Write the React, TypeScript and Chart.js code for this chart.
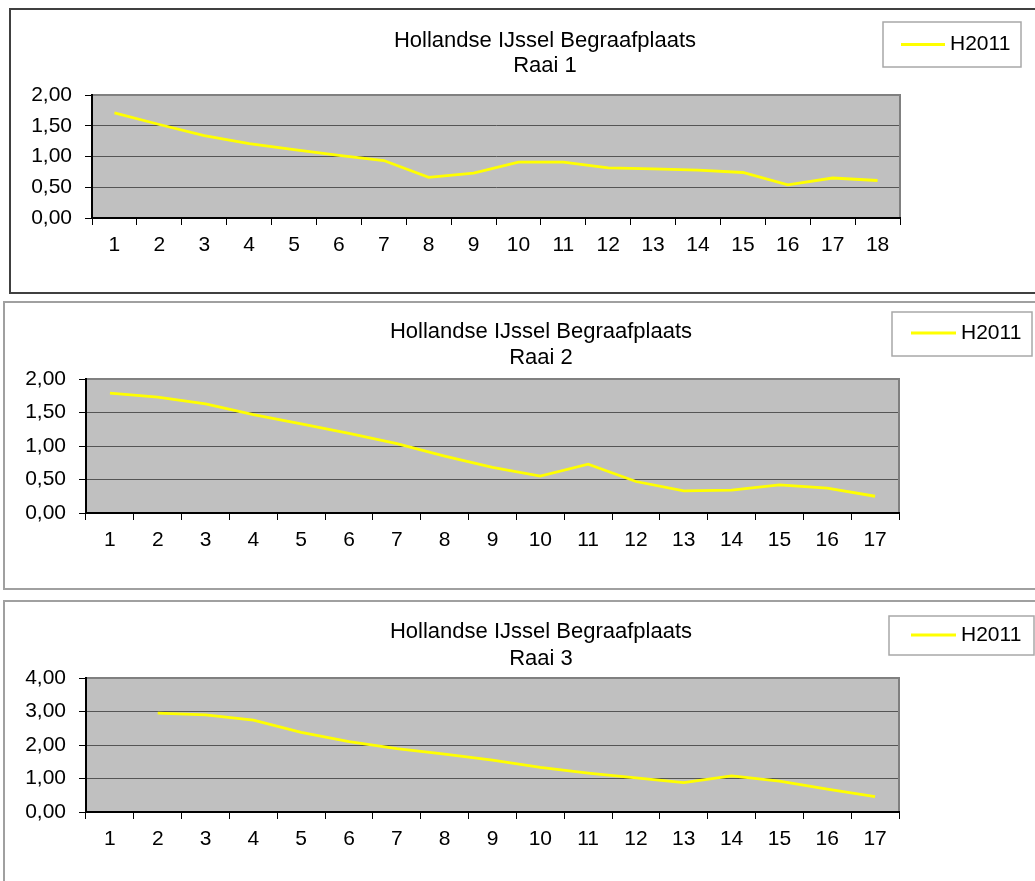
import { useEffect, useRef } from 'react';
import { Chart, registerables } from 'chart.js';

Chart.register(...registerables);

// ---- data -------------------------------------------------------------
const CHART_TITLE = 'Hollandse IJssel Begraafplaats';
const SERIES_LABEL = 'H2011';

const raai1Points = ['1', '2', '3', '4', '5', '6', '7', '8', '9', '10', '11', '12', '13', '14', '15', '16', '17', '18'];
const raai2Points = ['1', '2', '3', '4', '5', '6', '7', '8', '9', '10', '11', '12', '13', '14', '15', '16', '17'];
const raai3Points = ['1', '2', '3', '4', '5', '6', '7', '8', '9', '10', '11', '12', '13', '14', '15', '16', '17'];

const raai1H2011 = [1.71, 1.52, 1.34, 1.21, 1.11, 1.02, 0.935, 0.66, 0.73, 0.91, 0.91, 0.815, 0.8, 0.78, 0.74, 0.54, 0.65, 0.61];
const raai2H2011 = [1.79, 1.73, 1.63, 1.47, 1.33, 1.19, 1.035, 0.85, 0.68, 0.55, 0.73, 0.47, 0.33, 0.34, 0.42, 0.37, 0.25];
const raai3H2011 = [null, 2.95, 2.9, 2.74, 2.38, 2.1, 1.89, 1.73, 1.55, 1.33, 1.16, 1.02, 0.88, 1.08, 0.92, 0.68, 0.46];

const raai1Ticks = { max: 2, step: 0.5 };
const raai2Ticks = { max: 2, step: 0.5 };
const raai3Ticks = { max: 4, step: 1 };

// ---- layout -----------------------------------------------------------
const PAGE_W = 1035;
const PAGE_H = 881;
const FONT = "'Liberation Sans', Arial, Helvetica, sans-serif";
const AXIS_FONT_SIZE = 21;
const TITLE_FONT_SIZE = 22;
const X_AXIS_H = 40;
const LINE_COLOR = '#FFFF00';

type PanelSpec = {
  name: string;
  labels: string[];
  values: (number | null)[];
  ticks: { max: number; step: number };
  canvasTop: number;
  canvasH: number;
  frame: { left: number; top: number; width: number; height: number; color: string };
  plot: { left: number; right: number; top: number; bottom: number };
  titleX: number;
  titleY: [number, number];
  legend: { x1: number; x2: number; y1: number; y2: number; lineX1: number; lineX2: number; lineY: number; textX: number };
};

const panels: PanelSpec[] = [
  {
    name: 'Raai 1',
    labels: raai1Points,
    values: raai1H2011,
    ticks: raai1Ticks,
    canvasTop: 0,
    canvasH: 295,
    frame: { left: 9, top: 8, width: 1100, height: 286, color: '#404040' },
    plot: { left: 92, right: 900, top: 95, bottom: 218 },
    titleX: 545,
    titleY: [40.5, 65.5],
    legend: { x1: 883, x2: 1021, y1: 22, y2: 67, lineX1: 901, lineX2: 945, lineY: 44.5, textX: 950 },
  },
  {
    name: 'Raai 2',
    labels: raai2Points,
    values: raai2H2011,
    ticks: raai2Ticks,
    canvasTop: 296,
    canvasH: 296,
    frame: { left: 3, top: 301, width: 1100, height: 289, color: '#A0A0A0' },
    plot: { left: 86, right: 899, top: 83, bottom: 217 },
    titleX: 541,
    titleY: [36, 62],
    legend: { x1: 892, x2: 1032, y1: 16, y2: 60, lineX1: 911, lineX2: 956, lineY: 37, textX: 961 },
  },
  {
    name: 'Raai 3',
    labels: raai3Points,
    values: raai3H2011,
    ticks: raai3Ticks,
    canvasTop: 594,
    canvasH: 287,
    frame: { left: 3, top: 600, width: 1100, height: 400, color: '#A0A0A0' },
    plot: { left: 86, right: 899, top: 84, bottom: 218 },
    titleX: 541,
    titleY: [38, 64.5],
    legend: { x1: 889, x2: 1034, y1: 22, y2: 61, lineX1: 911, lineX2: 956, lineY: 41, textX: 961 },
  },
];

function RaaiChart({ spec }: { spec: PanelSpec }) {
  const canvasRef = useRef<HTMLCanvasElement>(null);

  useEffect(() => {
    const canvas = canvasRef.current;
    if (!canvas) return;

    // plot background, plot frame, title and legend box
    const decor = {
      id: 'raaiDecor',
      beforeDraw(chart: any) {
        const { ctx, chartArea: a } = chart;
        ctx.save();
        ctx.fillStyle = '#C0C0C0';
        ctx.fillRect(a.left, a.top, a.right - a.left, a.bottom - a.top);
        ctx.restore();
      },
      beforeDatasetsDraw(chart: any) {
        const { ctx, chartArea: a } = chart;
        ctx.save();
        ctx.strokeStyle = '#808080';
        ctx.lineWidth = 2;
        ctx.beginPath();
        ctx.moveTo(a.left + 1, a.top);
        ctx.lineTo(a.right, a.top);
        ctx.lineTo(a.right, a.bottom - 1);
        ctx.stroke();
        ctx.restore();
      },
      afterDraw(chart: any) {
        const { ctx } = chart;
        const ds = chart.data.datasets[0];
        const lg = spec.legend;
        ctx.save();
        // title
        ctx.fillStyle = '#000';
        ctx.font = `${TITLE_FONT_SIZE}px ${FONT}`;
        ctx.textAlign = 'center';
        ctx.textBaseline = 'middle';
        ctx.fillText(CHART_TITLE, spec.titleX, spec.titleY[0]);
        ctx.fillText(spec.name, spec.titleX, spec.titleY[1]);
        // legend
        ctx.strokeStyle = '#A8A8A8';
        ctx.lineWidth = 1.5;
        ctx.strokeRect(lg.x1, lg.y1, lg.x2 - lg.x1, lg.y2 - lg.y1);
        ctx.strokeStyle = ds.borderColor;
        ctx.lineWidth = ds.borderWidth;
        ctx.beginPath();
        ctx.moveTo(lg.lineX1, lg.lineY);
        ctx.lineTo(lg.lineX2, lg.lineY);
        ctx.stroke();
        ctx.fillStyle = '#000';
        ctx.font = `${AXIS_FONT_SIZE}px ${FONT}`;
        ctx.textAlign = 'left';
        ctx.fillText(ds.label, lg.textX, lg.lineY);
        ctx.restore();
      },
    };

    const chart = new Chart(canvas, {
      type: 'line',
      data: {
        labels: spec.labels,
        datasets: [
          {
            label: SERIES_LABEL,
            data: spec.values,
            borderColor: LINE_COLOR,
            backgroundColor: LINE_COLOR,
            borderWidth: 2.8,
            pointRadius: 0,
            pointHoverRadius: 0,
            tension: 0,
            spanGaps: false,
            fill: false,
          },
        ],
      },
      options: {
        responsive: false,
        animation: false,
        devicePixelRatio: 1,
        layout: {
          padding: {
            left: 0,
            top: spec.plot.top,
            right: PAGE_W - spec.plot.right,
            bottom: spec.canvasH - spec.plot.bottom - X_AXIS_H,
          },
        },
        plugins: {
          legend: { display: false },
          title: { display: false },
          tooltip: { enabled: false },
        },
        scales: {
          x: {
            type: 'category',
            offset: true,
            afterFit: (s: any) => {
              s.height = X_AXIS_H;
            },
            grid: {
              offset: true,
              drawOnChartArea: false,
              drawTicks: true,
              tickLength: 7,
              color: '#000',
              lineWidth: 1,
            },
            border: { display: true, color: '#000', width: 2 },
            ticks: {
              autoSkip: false,
              maxRotation: 0,
              padding: 8,
              color: '#000',
              font: { family: FONT, size: AXIS_FONT_SIZE },
            },
          },
          y: {
            min: 0,
            max: spec.ticks.max,
            afterFit: (s: any) => {
              s.width = spec.plot.left;
            },
            grid: {
              color: '#555555',
              lineWidth: 1,
              drawTicks: true,
              tickLength: 7,
              tickColor: '#000',
            },
            border: { display: true, color: '#000', width: 2 },
            ticks: {
              stepSize: spec.ticks.step,
              padding: 13,
              color: '#000',
              font: { family: FONT, size: AXIS_FONT_SIZE },
              callback: (v: any) => Number(v).toFixed(2).replace('.', ','),
            },
          },
        },
      },
      plugins: [decor],
    });

    return () => chart.destroy();
  }, [spec]);

  return (
    <canvas
      ref={canvasRef}
      width={PAGE_W}
      height={spec.canvasH}
      style={{ position: 'absolute', left: 0, top: spec.canvasTop, width: PAGE_W, height: spec.canvasH }}
    />
  );
}

export default function App() {
  return (
    <div
      style={{
        position: 'absolute',
        left: 0,
        top: 0,
        width: PAGE_W,
        height: PAGE_H,
        overflow: 'hidden',
        background: '#FFFFFF',
      }}
    >
      {panels.map((p) => (
        <div
          key={`frame-${p.name}`}
          style={{
            position: 'absolute',
            left: p.frame.left,
            top: p.frame.top,
            width: p.frame.width,
            height: p.frame.height,
            border: `2px solid ${p.frame.color}`,
            boxSizing: 'border-box',
          }}
        />
      ))}
      {panels.map((p) => (
        <RaaiChart key={p.name} spec={p} />
      ))}
    </div>
  );
}
